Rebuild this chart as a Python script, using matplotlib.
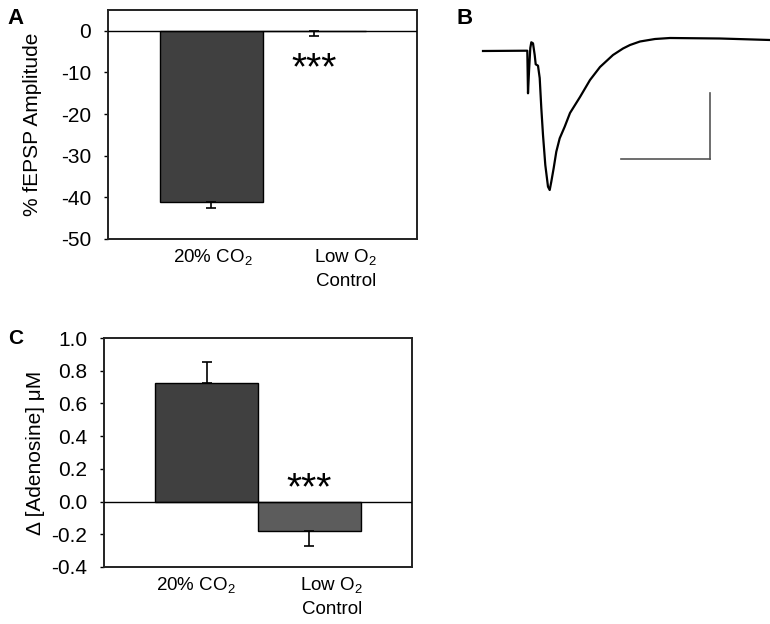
import matplotlib
matplotlib.use("Agg")
import matplotlib.pyplot as plt

plt.rcParams['font.family'] = ['Liberation Sans', 'DejaVu Sans']
plt.rcParams['mathtext.default'] = 'regular'
plt.rcParams['axes.unicode_minus'] = False

# Data
categories = ["20% CO$_2$", "Low O$_2$\nControl"]

# Panel A: % fEPSP amplitude
fepsp_mean = [-41.0, -0.1]
fepsp_err = [1.6, 1.1]

# Panel C: change in adenosine (uM)
adenosine_mean = [0.723, -0.177]
adenosine_err = [0.133, 0.092]

# Panel B: fEPSP trace (time, amplitude relative to baseline, arbitrary units)
trace_t = [0, 44.3, 45, 46, 47.3, 48.3, 50, 51.7, 52.7, 55, 56.7, 58.3, 60, 62.3, 65,
           66.7, 68.3, 70.7, 73.3, 76.7, 81.7, 87, 97, 107, 117, 130, 140, 147, 157,
           172, 187, 237, 287]
trace_v = [0, 0.3, -42.3, -20.7, 3, 8.7, 7.7, -4, -13.3, -14.7, -27, -57, -84, -114, -135.7,
           -139, -130.7, -117, -100.7, -87.3, -75.7, -62, -46, -29, -16, -4, 2.5, 6, 9.5,
           12, 13, 12.5, 11]

W, H = 770, 624
fig = plt.figure(figsize=(W / 100, H / 100), dpi=100)


def px_axes(left, top, right, bottom):
    return fig.add_axes([left / W, 1 - bottom / H, (right - left) / W, (bottom - top) / H])


def bar_panel(ax, means, errs, colors, ylim, yticks, ylabel, stars_y, label_x):
    x = range(len(means))
    ax.bar(x, means, width=1.0, color=colors, edgecolor='black', linewidth=1.0, zorder=2)
    for xi, m, e in zip(x, means, errs):
        yerr = [[e], [0]] if m < 0 else [[0], [e]]
        ax.errorbar(xi, m, yerr=yerr, fmt='none', ecolor='black', elinewidth=1.2,
                    capsize=3.5, capthick=1.2, zorder=3)
    ax.axhline(0, color='black', linewidth=1.0, zorder=4)
    ax.set_xlim(-1, 2)
    ax.set_ylim(*ylim)
    ax.set_yticks(yticks)
    # category labels sit where the original chart put them
    ax.set_xticks(label_x)
    ax.set_xticklabels(categories, fontsize=13.5, linespacing=1.45)
    ax.tick_params(axis='x', length=0, pad=6)
    ax.tick_params(axis='y', length=3, width=1, pad=9, labelsize=15)
    for s in ax.spines.values():
        s.set_linewidth(1.4)
        s.set_color('#222222')
    ax.set_ylabel(ylabel, fontsize=15)
    ax.text(1, stars_y, '***', ha='center', va='baseline', fontsize=28)


# Panel A
axA = px_axes(108, 10, 417, 239)
bar_panel(axA, fepsp_mean, fepsp_err, ['#404040', '#5a5a5a'], (-50, 5),
          [0, -10, -20, -30, -40, -50], '% fEPSP Amplitude', -11.7, [0.02, 1.31])
axA.yaxis.set_label_coords(-0.243, 0.5)
axA.yaxis.label.set_va('center')

# Panel C
axC = px_axes(104, 338, 412, 567)
bar_panel(axC, adenosine_mean, adenosine_err, ['#404040', '#5c5c5c'], (-0.4, 1.0),
          [1.0, 0.8, 0.6, 0.4, 0.2, 0.0, -0.2, -0.4], 'Δ [Adenosine] μM', 0.014,
          [-0.11, 1.22])
axC.set_yticklabels(['1.0', '0.8', '0.6', '0.4', '0.2', '0.0', '-0.2', '-0.4'])
axC.yaxis.set_label_coords(-0.224, 0.5)
axC.yaxis.label.set_va('center')

# Panel B: trace with scale bar
axB = px_axes(470, 10, 770, 200)
axB.plot(trace_t, trace_v, color='black', linewidth=1.6, solid_joinstyle='round')
axB.plot([138, 227], [-108, -108], color='#555555', linewidth=1.2)
axB.plot([227, 227], [-108, -42], color='#555555', linewidth=1.2)
axB.set_xlim(-13, 287)
axB.set_ylim(-149, 41)
axB.axis('off')

# Panel letters
fig.text(7 / W, 1 - 18 / H, 'A', fontsize=16, fontweight='bold', va='center', ha='left')
fig.text(456 / W, 1 - 18 / H, 'B', fontsize=16, fontweight='bold', va='center', ha='left')
fig.text(8 / W, 1 - 339 / H, 'C', fontsize=15, fontweight='bold', va='center', ha='left')

fig.savefig('out.png', dpi=100)
